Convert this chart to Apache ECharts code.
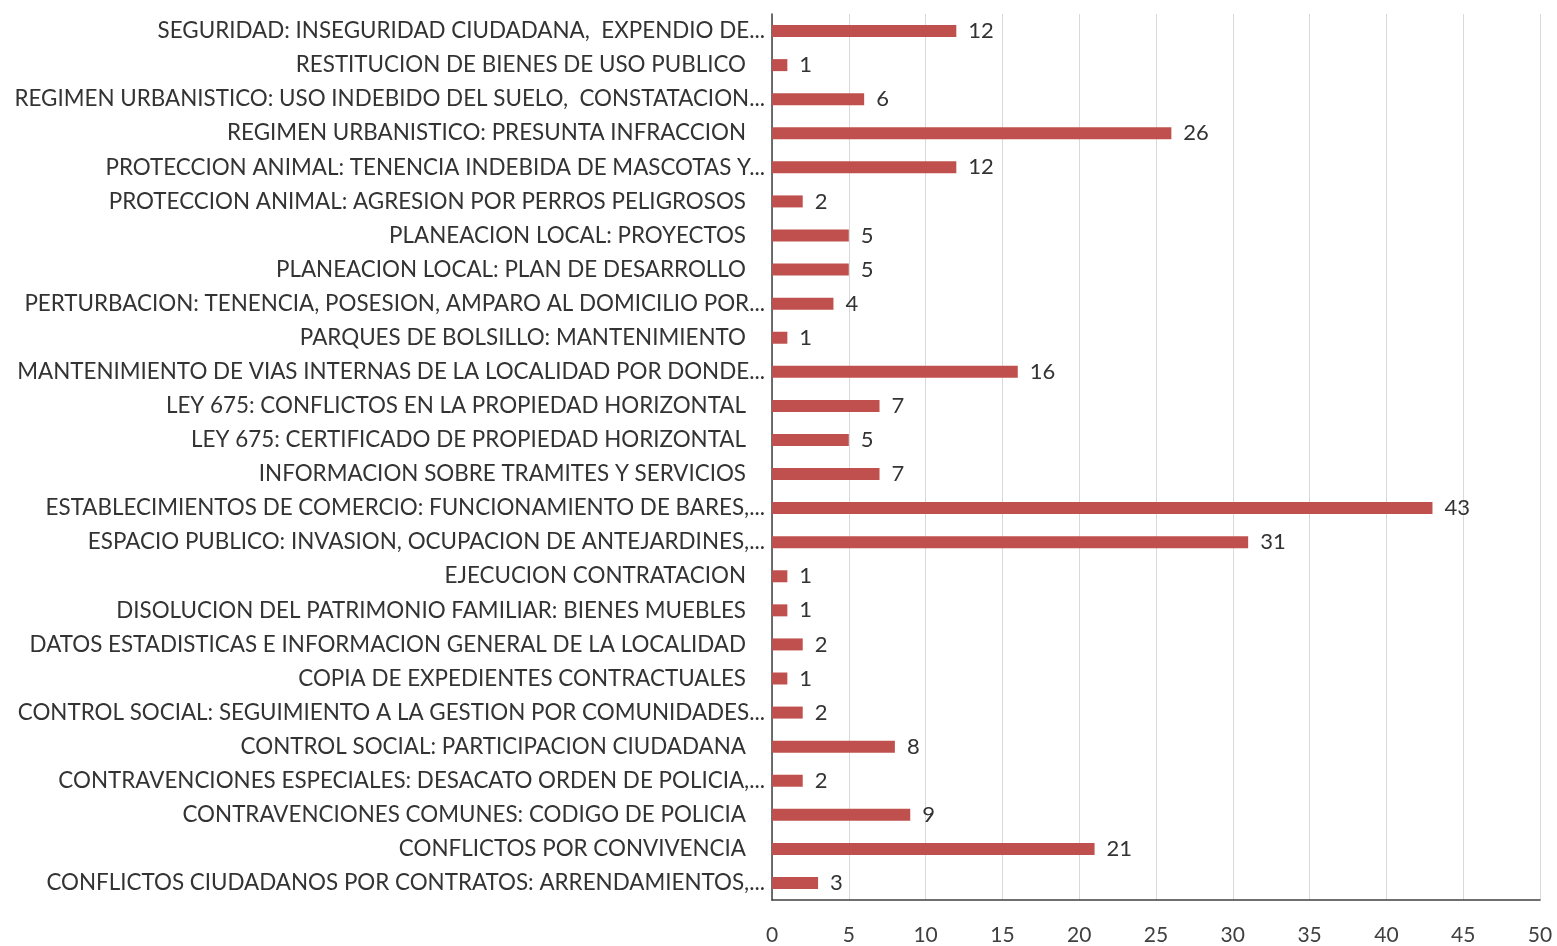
<!DOCTYPE html>
<html>
<head>
<meta charset="utf-8">
<script src="https://cdn.jsdelivr.net/npm/echarts@6/dist/echarts.min.js"></script>
<style>
html,body{margin:0;padding:0;background:#fff;}
#chart{width:1557px;height:946px;}
</style>
</head>
<body>
<div id="chart"></div>
<script>
const categories = [
  "SEGURIDAD: INSEGURIDAD CIUDADANA,  EXPENDIO DE...",
  "RESTITUCION DE BIENES DE USO PUBLICO",
  "REGIMEN URBANISTICO: USO INDEBIDO DEL SUELO,  CONSTATACION...",
  "REGIMEN URBANISTICO: PRESUNTA INFRACCION",
  "PROTECCION ANIMAL: TENENCIA INDEBIDA DE MASCOTAS Y...",
  "PROTECCION ANIMAL: AGRESION POR PERROS PELIGROSOS",
  "PLANEACION LOCAL: PROYECTOS",
  "PLANEACION LOCAL: PLAN DE DESARROLLO",
  "PERTURBACION: TENENCIA, POSESION, AMPARO AL DOMICILIO POR...",
  "PARQUES DE BOLSILLO: MANTENIMIENTO",
  "MANTENIMIENTO DE VIAS INTERNAS DE LA LOCALIDAD POR DONDE...",
  "LEY 675: CONFLICTOS EN LA PROPIEDAD HORIZONTAL",
  "LEY 675: CERTIFICADO DE PROPIEDAD HORIZONTAL",
  "INFORMACION SOBRE TRAMITES Y SERVICIOS",
  "ESTABLECIMIENTOS DE COMERCIO: FUNCIONAMIENTO DE BARES,...",
  "ESPACIO PUBLICO: INVASION, OCUPACION DE ANTEJARDINES,...",
  "EJECUCION CONTRATACION",
  "DISOLUCION DEL PATRIMONIO FAMILIAR: BIENES MUEBLES",
  "DATOS ESTADISTICAS E INFORMACION GENERAL DE LA LOCALIDAD",
  "COPIA DE EXPEDIENTES CONTRACTUALES",
  "CONTROL SOCIAL: SEGUIMIENTO A LA GESTION POR COMUNIDADES...",
  "CONTROL SOCIAL: PARTICIPACION CIUDADANA",
  "CONTRAVENCIONES ESPECIALES: DESACATO ORDEN DE POLICIA,...",
  "CONTRAVENCIONES COMUNES: CODIGO DE POLICIA",
  "CONFLICTOS POR CONVIVENCIA",
  "CONFLICTOS CIUDADANOS POR CONTRATOS: ARRENDAMIENTOS,..."
];
const values = [12, 1, 6, 26, 12, 2, 5, 5, 4, 1, 16, 7, 5, 7, 43, 31, 1, 1, 2, 1, 2, 8, 2, 9, 21, 3];
const xMin = 0, xMax = 50, xStep = 5;

const FONT = 'Lato';
const TEXT = '#333333';
const chart = echarts.init(document.getElementById('chart'), null, {renderer: 'canvas'});
chart.setOption({
  animation: false,
  backgroundColor: '#ffffff',
  grid: {left: 772, right: 17, top: 14, bottom: 45, containLabel: false},
  xAxis: {
    type: 'value', min: xMin, max: xMax, interval: xStep,
    axisLine: {show: true, lineStyle: {color: '#404040', width: 1.5}},
    axisTick: {show: false},
    splitLine: {show: true, lineStyle: {color: '#d9d9d9', width: 1}},
    axisLabel: {color: '#404040', fontFamily: FONT, fontSize: 21, margin: 25}
  },
  yAxis: {
    type: 'category', data: categories, inverse: true,
    axisLine: {show: true, lineStyle: {color: '#404040', width: 1.5}},
    axisTick: {show: false},
    axisLabel: {
      color: TEXT, fontFamily: FONT, fontSize: 22.4, margin: 7, interval: 0,
      formatter: function (v) { return v.endsWith('...') ? '{e|' + v + '}' : '{p|' + v + '}'; },
      rich: {
        e: {color: TEXT, fontFamily: FONT, fontSize: 22.4},
        p: {color: TEXT, fontFamily: FONT, fontSize: 22.4, padding: [0, 19, 0, 0]}
      }
    }
  },
  series: [{
    type: 'bar', data: values, barWidth: 12,
    itemStyle: {color: '#C0504D'},
    label: {show: true, position: 'right', distance: 12, color: TEXT, fontFamily: FONT, fontSize: 22}
  }]
});
</script>
</body>
</html>
